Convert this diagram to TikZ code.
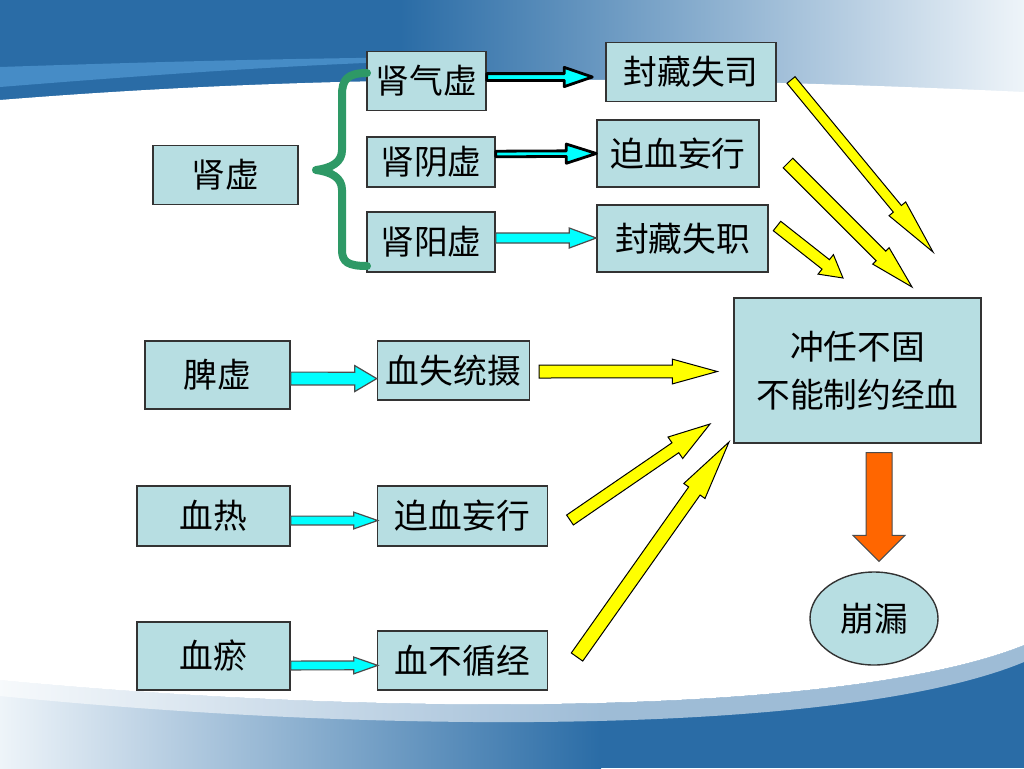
\documentclass[tikz,border=0pt]{standalone}
\usepackage{fontspec}
\newfontfamily\cjk{Noto Sans CJK SC}
\usetikzlibrary{positioning,calc,shapes.geometric}

\definecolor{boxfill}{RGB}{183,222,226}
\definecolor{bgdark}{RGB}{42,108,166}
\definecolor{bgstripe}{RGB}{78,148,206}
\definecolor{bglight}{RGB}{238,244,249}
\definecolor{bracegreen}{RGB}{46,153,102}
\definecolor{orangearr}{RGB}{255,102,0}
\definecolor{cyanfill}{RGB}{0,255,255}
\definecolor{yelfill}{RGB}{255,255,0}

% fat block arrow: style, from, to, shaft half width, head half width, head length
\newcommand{\fatarrow}[6]{%
  \coordinate (fa-a) at #2;
  \coordinate (fa-b) at #3;
  \coordinate (fa-h) at ($(fa-b)!#6!(fa-a)$);
  \filldraw[#1] ($(fa-a)!#4!90:(fa-b)$) -- ($(fa-h)!#4!90:(fa-b)$)
    -- ($(fa-h)!#5!90:(fa-b)$) -- (fa-b) -- ($(fa-h)!#5!-90:(fa-b)$)
    -- ($(fa-h)!#4!-90:(fa-b)$) -- ($(fa-a)!#4!-90:(fa-b)$) -- cycle;}

\begin{document}
\begin{tikzpicture}[x=0.25mm,y=-0.25mm,
  box/.style={draw=black!80, line width=0.35mm, fill=boxfill, inner sep=0pt,
    font=\cjk\fontsize{24}{34}\selectfont},
  cyanarr/.style={fill=cyanfill, draw=black!70, line width=0.3mm},
  cyanbold/.style={fill=cyanfill, draw=black, line width=0.7mm, line join=round},
  yelarr/.style={fill=yelfill, draw=black, line width=0.25mm},
  orgarr/.style={fill=orangearr, draw=black!70, line width=0.25mm}]

\useasboundingbox (0,0) rectangle (1024,768);

% background swooshes
\fill[bgdark] (0,0) rectangle (401,140);
\shade[left color=bgdark, right color=bglight] (400,0) rectangle (1024,140);
\fill[bgstripe, opacity=0.8] (0,67) .. controls (150,62) and (300,58) .. (450,57)
  -- (450,60) .. controls (300,64) and (150,75) .. (0,87) -- cycle;
\shade[left color=bglight, right color=bgdark] (0,630) rectangle (601,768);
\fill[bgdark] (600,630) rectangle (1024,768);
\fill[white, opacity=0.55] (0,680) .. controls (400,718) and (850,715) .. (1024,645)
  -- (1024,662) .. controls (850,734) and (400,736) .. (0,696) -- cycle;
\fill[white] (0,100) .. controls (250,80) and (550,70) .. (1024,92)
  -- (1024,645) .. controls (850,715) and (400,718) .. (0,680) -- cycle;

% nodes
\node[box, minimum width=36.25mm, minimum height=14.75mm] (sx) at (225.5,175) {肾虚};
\node[box, minimum width=29.75mm, minimum height=14.75mm] (sqx) at (426.5,81) {肾气虚};
\node[box, minimum width=32mm, minimum height=12.5mm] (syinx) at (431,162) {肾阴虚};
\node[box, minimum width=32mm, minimum height=15mm] (syangx) at (431,242) {肾阳虚};
\node[box, minimum width=42.5mm, minimum height=14.75mm] (fcss) at (691,72) {封藏失司};
\node[box, minimum width=40.5mm, minimum height=16.75mm] (pxwx) at (678,153.5) {迫血妄行};
\node[box, minimum width=42.75mm, minimum height=16.75mm] (fcsz) at (682.5,238.5) {封藏失职};
\node[box, minimum width=61.75mm, minimum height=36.25mm, align=center] (crbg) at (857.5,370.5) {冲任不固\\不能制约经血};
\node[box, minimum width=36.25mm, minimum height=17mm] (px) at (217.5,375) {脾虚};
\node[box, minimum width=38mm, minimum height=14.75mm, right=21.5mm of px, yshift=1.1mm] (xsts) {血失统摄};
\node[box, minimum width=38.25mm, minimum height=15mm] (xr) at (213.5,516) {血热};
\node[box, minimum width=42.5mm, minimum height=15mm, right=21.5mm of xr] (pxwx2) {迫血妄行};
\node[box, minimum width=38.25mm, minimum height=17mm] (xy) at (213.5,656) {血瘀};
\node[box, minimum width=42.5mm, minimum height=14.75mm, right=21.5mm of xy, yshift=-1.1mm] (xbxj) {血不循经};
\node[box, ellipse, minimum width=32mm, minimum height=23.25mm] (bl) at (874,618.5) {崩漏};

% brace
\draw[bracegreen, line width=2mm, line cap=round, line join=round]
  (367,73) .. controls (347,73) and (342,80) .. (342,95)
  -- (342,150) .. controls (342,162) and (332,168) .. (316,170)
  .. controls (332,172) and (342,178) .. (342,190) -- (342,250)
  .. controls (342,262) and (348,266) .. (367,266);

% cyan arrows
\fatarrow{cyanbold}{($(sqx.east)+(0,-4)$)}{($(fcss.west)+(-13,5)$)}{0.85mm}{2.4mm}{7mm}
\fatarrow{cyanbold}{($(syinx.east)+(0,-8)$)}{(pxwx.west)}{0.7mm}{2.4mm}{7.5mm}
\fatarrow{cyanarr}{($(syangx.east)+(0,-4)$)}{($(fcsz.west)+(0,-0.5)$)}{1.25mm}{2.5mm}{6.75mm}
\fatarrow{cyanarr}{($(px.east)+(0,3.5)$)}{($(xsts.west)+(0,8)$)}{1.6mm}{3.25mm}{5.5mm}
\fatarrow{cyanarr}{($(xr.east)+(0,4.5)$)}{($(pxwx2.west)+(1,4.5)$)}{1.1mm}{2.1mm}{6mm}
\fatarrow{cyanarr}{($(xy.east)+(0,9.5)$)}{($(xbxj.west)+(1,5)$)}{1.1mm}{2.1mm}{6mm}

% yellow arrows
\coordinate (ya1) at (791,80);
\coordinate (yb1) at (933,252);
\coordinate (ya2) at (788,163);
\coordinate (yb2) at (912,287);
\coordinate (ya3) at (777,226);
\coordinate (yb3) at (843,278);
\coordinate (ya4) at (570,520);
\coordinate (yb4) at (710,424);
\coordinate (ya5) at (577,657);
\coordinate (yb5) at (729,442);
\fatarrow{yelarr}{(ya1)}{(yb1)}{1.3mm}{2.7mm}{14mm}
\fatarrow{yelarr}{(ya2)}{(yb2)}{1.7mm}{2.9mm}{11mm}
\fatarrow{yelarr}{(ya3)}{(yb3)}{1.5mm}{3.1mm}{5.5mm}
\fatarrow{yelarr}{($(xsts.east)+(9,1)$)}{($(crbg.west)+(-16,1)$)}{1.6mm}{3.1mm}{11.25mm}
\fatarrow{yelarr}{(ya4)}{(yb4)}{1.5mm}{3.25mm}{10.5mm}
\fatarrow{yelarr}{(ya5)}{(yb5)}{1.75mm}{3.25mm}{15mm}

% orange arrow
\fatarrow{orgarr}{($(crbg.south)+(21.5,9)$)}{($(bl.north)+(5,-10)$)}{3.25mm}{6.5mm}{6.5mm}
\end{tikzpicture}
\end{document}
